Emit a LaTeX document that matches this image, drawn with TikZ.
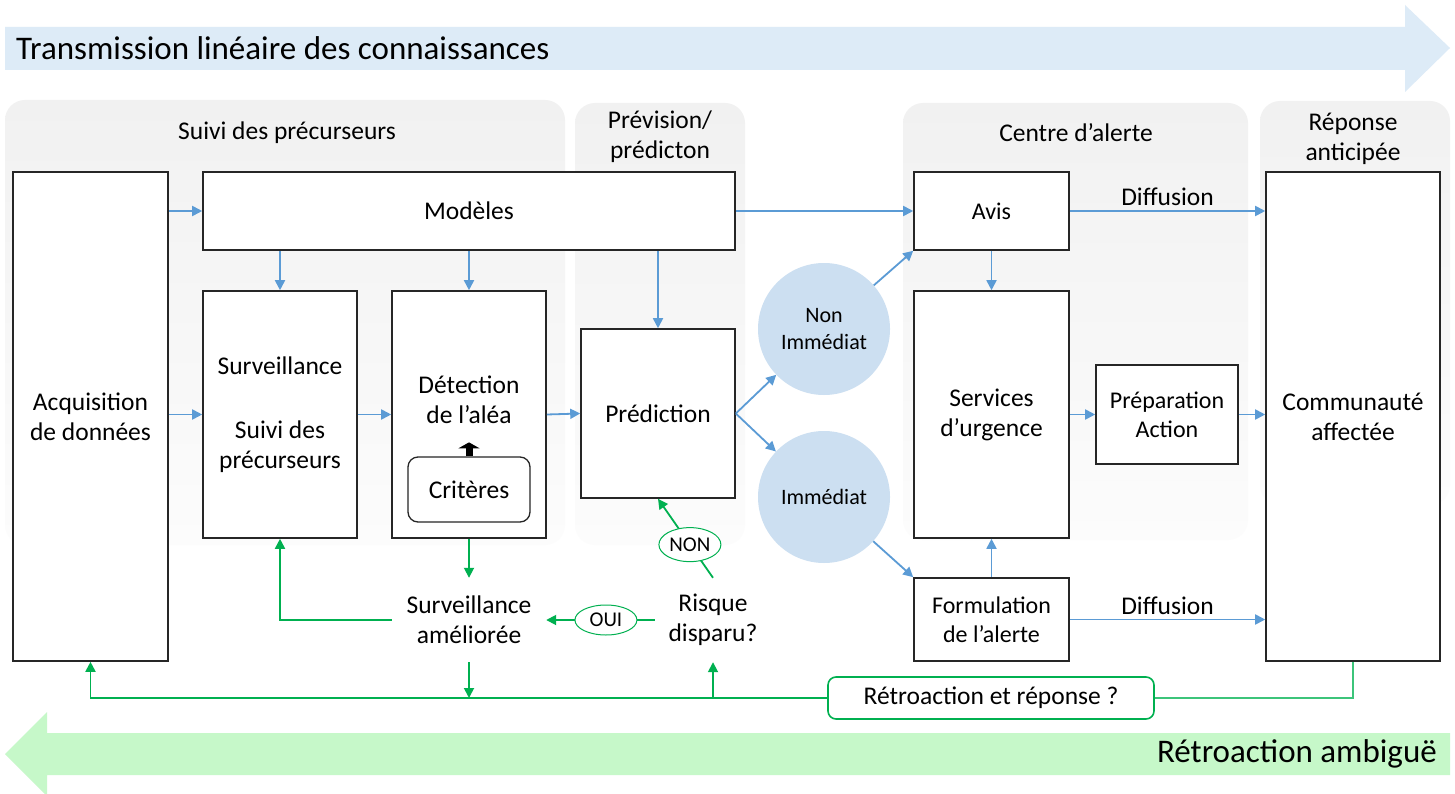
\documentclass[tikz,border=0pt]{standalone}
\usepackage{fontspec}
\setmainfont{Carlito}
\usetikzlibrary{arrows.meta,shapes.geometric}
\definecolor{bl}{HTML}{5B9BD5}
\definecolor{gr}{HTML}{00B050}
\definecolor{grl}{HTML}{3CC47A}
\definecolor{topband}{HTML}{DDEBF7}
\definecolor{botband}{HTML}{C6F8C9}
\definecolor{circ}{HTML}{CCDFF1}
\definecolor{panel}{HTML}{F1F1F1}
\definecolor{panelb}{HTML}{FCFCFC}
\newcommand{\fsmain}{\fontsize{25.5}{30}\selectfont}
\newcommand{\fsmid}{\fontsize{24}{29}\selectfont}
\newcommand{\fscirc}{\fontsize{22}{27}\selectfont}
\newcommand{\fssmall}{\fontsize{21}{25}\selectfont}
\newcommand{\fsbig}{\fontsize{33}{38}\selectfont}
\begin{document}
\begin{tikzpicture}[x=1pt,y=-1pt,
  box/.style={draw=black!85, line width=1.6pt, fill=white, align=center, inner sep=0pt, font=\fsmain},
  txt/.style={align=center, inner sep=0pt, font=\fsmain},
  ptitle/.style={align=center, inner sep=0pt, font=\fsmain},
  circnode/.style={circle, fill=circ, minimum size=132pt, inner sep=0pt, align=center, font=\fscirc},
  barrow/.style={draw=bl, line width=1.8pt, -{Triangle[length=10pt,width=10pt]}},
  garrow/.style={draw=gr, line width=1.8pt, -{Triangle[length=10pt,width=10pt]}},
  oval/.style={ellipse, draw=gr, line width=1pt, fill=white, inner sep=0pt, font=\fssmall},
  panelbox/.style={top color=panel, bottom color=panelb, rounded corners=20pt}
]
\useasboundingbox (0,0) rectangle (1455,794);
\fill[white] (0,0) rectangle (1455,794);

% bands
\fill[topband] (5,27) -- (1405,27) -- (1405,5) -- (1450,48) -- (1405,92) -- (1405,70) -- (5,70) -- cycle;
\node[anchor=west, inner sep=0pt, font=\fsbig] (ttop) at (16,48) {Transmission linéaire des connaissances};
\fill[botband] (1450,733) -- (47,733) -- (47,712) -- (5,754) -- (47,796) -- (47,775) -- (1450,775) -- cycle;
\node[anchor=east, inner sep=0pt, font=\fsbig] (tbot) at (1437,754) {Rétroaction ambiguë};

% panels
\shade[panelbox] (5,100) rectangle (565,545);
\shade[panelbox] (575,103) rectangle (745,545);
\shade[panelbox] (903,103) rectangle (1248,540);
\shade[panelbox] (1260,101) rectangle (1450,505);

\node[ptitle] (t1) at (287,133) {Suivi des précurseurs};
\node[ptitle] (t2) at (660,137) {Prévision/\\prédicton};
\node[ptitle] (t3) at (1076,133) {Centre d’alerte};
\node[ptitle] (t4) at (1353,139) {Réponse\\anticipée};

% boxes
\node[box, minimum width=155pt, minimum height=489pt] (acq) at (90.5,416.5) {Acquisition\\de données};
\node[box, minimum width=532pt, minimum height=78pt] (mod) at (469,211) {Modèles};
\node[box, minimum width=154pt, minimum height=247pt] (surv) at (280,414.5) {Surveillance\\[34pt]Suivi des\\précurseurs};
\node[box, minimum width=154pt, minimum height=247pt] (det) at (469,414.5) {};
\node[txt] (detl) at (469,400) {Détection\\de l’aléa};
\node[box, line width=1.3pt, rounded corners=10pt, minimum width=122pt, minimum height=65pt] (crit) at (469,489.5) {Critères};
\draw[line width=7pt, -{Triangle[length=6pt,width=21pt]}] (crit.north) -- ++(0,-14);
\node[box, minimum width=154pt, minimum height=169pt] (pred) at (658,413.5) {Prédiction};

\node[circnode] (nonimm) at (824,329) {Non\\Immédiat};
\node[circnode] (imm) at (824,497) {Immédiat};

\node[box, font=\fsmid, minimum width=155pt, minimum height=78pt] (avis) at (991.5,211) {Avis};
\node[box, minimum width=155pt, minimum height=247pt] (serv) at (991.5,414.5) {Services\\d’urgence};
\node[box, font=\fsmid, minimum width=142pt, minimum height=99pt] (prep) at (1167,414.5) {Préparation\\Action};
\node[box, font=\fsmid, minimum width=155pt, minimum height=83pt] (form) at (991.5,619.5) {Formulation\\de l’alerte};
\node[box, minimum width=174pt, minimum height=489pt] (comm) at (1353,416.5) {Communauté\\affectée};

\node[txt, minimum width=154pt, minimum height=84pt] (samel) at (469,620) {Surveillance\\améliorée};
\node[txt, minimum width=116pt, minimum height=84pt] (risque) at (713,620) {Risque\\disparu?};
\node[draw=gr, line width=1.6pt, fill=white, rounded corners=8pt, minimum width=326pt, minimum height=42pt, inner sep=0pt, font=\fsmain] (retro) at (991,698) {Rétroaction et réponse ?};

% blue connectors
\draw[barrow] (acq.east |- mod.west) -- (mod.west);
\draw[barrow] (acq.east |- surv.west) -- (surv.west);
\draw[barrow] (surv.east) -- (det.west);
\draw[barrow] (det.east) -- (pred.west);
\draw[barrow] (surv.north |- mod.south) -- (surv.north);
\draw[barrow] (det.north |- mod.south) -- (det.north);
\draw[barrow] (pred.north |- mod.south) -- (pred.north);
\draw[barrow] (mod.east) -- (avis.west);
\draw[barrow] (pred.east) -- (nonimm);
\draw[barrow] (pred.east) -- (imm);
\draw[barrow] (nonimm) -- (avis.south west);
\draw[barrow] (imm) -- (form.north west);
\draw[barrow] (avis.south) -- (serv.north);
\draw[barrow] (form.north) -- (serv.south);
\draw[barrow] (serv.east) -- (prep.west);
\draw[barrow] (prep.east) -- (comm.west |- prep.east);
\draw[barrow] (avis.east) -- node[above, inner sep=4pt, font=\fsmain] (dif1) {Diffusion} (comm.west |- avis.east);
\draw[barrow] (form.east) -- node[above, inner sep=4pt, font=\fsmain] (dif2) {Diffusion} (comm.west |- form.east);

% green connectors
\draw[garrow] (det.south) -- (samel.north);
\draw[garrow] (samel.west) -| (surv.south);
\draw[garrow] (risque.west) -- node[oval, minimum width=62pt, minimum height=30pt, pos=0.45] (oui) {OUI} (samel.east);
\draw[garrow] (risque.north) -- node[oval, minimum width=62pt, minimum height=34pt, pos=0.42] (non) {NON} (pred.south);
\draw[garrow] (samel.south) -- (samel.south |- retro.west);
\draw[garrow] (retro.west) -- (acq.south |- retro.west) -- (acq.south);
\draw[garrow] (risque.south |- retro.west) -- (risque.south);
\draw[draw=grl, line width=1.1pt] (retro.east) -| (comm.south);
\end{tikzpicture}
\end{document}
